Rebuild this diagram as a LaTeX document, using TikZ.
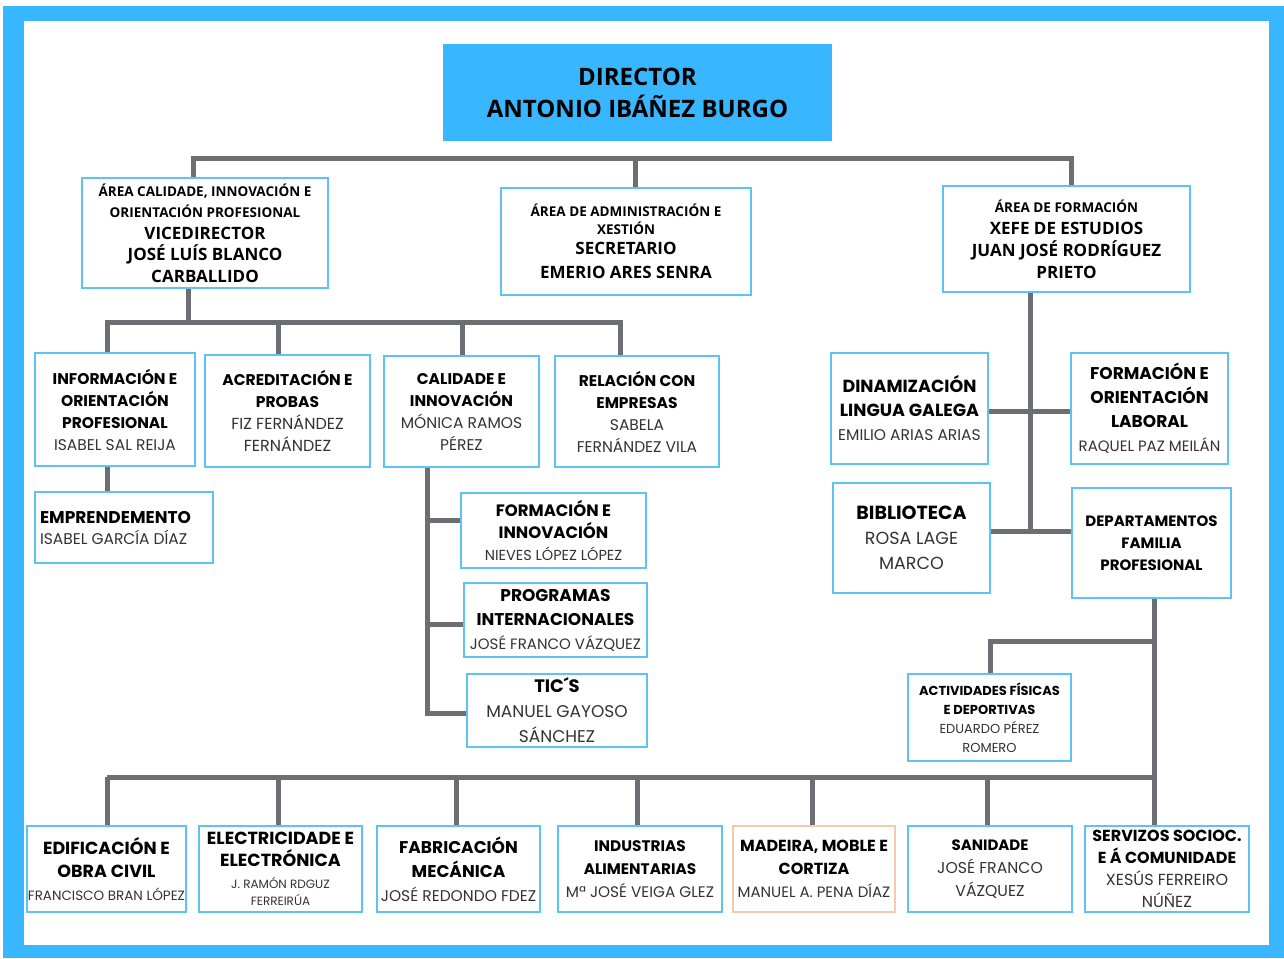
\documentclass[tikz,border=0pt]{standalone}
\usepackage{fontspec}
\setmainfont{Poppins}
\newfontfamily\opfont{Open Sans}
\usepackage{tikz}

\definecolor{frameblue}{HTML}{38B6FF}
\definecolor{boxblue}{HTML}{5DC3F5}
\definecolor{linegray}{HTML}{6B6E72}
\definecolor{namegray}{HTML}{333333}
\definecolor{peach}{HTML}{F7C9AE}

\newcommand{\tit}[2][15.5]{{\bfseries\fontsize{#1}{20}\selectfont #2}}
\newcommand{\nam}[2][15.5]{{\color{namegray}\fontsize{#1}{20}\selectfont #2}}
\newcommand{\sm}[1]{{\fontsize{13.5}{20}\selectfont #1}}

\begin{document}
\begin{tikzpicture}[x=1pt,y=-1pt,
	box/.style={draw=boxblue,line width=2.2pt,fill=white,align=center,inner sep=1pt,font=\fontsize{12}{22}\selectfont},
	area/.style={box,font=\opfont\bfseries\fontsize{17}{22}\selectfont},
	link/.style={linegray,line width=5pt}]
	\useasboundingbox (0,0) rectangle (1284,958);
	\fill[frameblue] (3,6) rectangle (1284,958);
	\fill[white] (24,21) rectangle (1269,945);
	
	% direccion
	\node (dir) at (637.5,92.5)[fill=frameblue,minimum width=389pt,minimum height=97pt,align=center,font=\opfont\bfseries\fontsize{24}{32}\selectfont] {DIRECTOR\\ANTONIO IBÁÑEZ BURGO};
	
	\node (calid) at (205,233)[area,minimum width=246pt,minimum height=110pt,font=\opfont\bfseries\fontsize{17}{21.5}\selectfont] {\sm{ÁREA CALIDADE, INNOVACIÓN E}\\\sm{ORIENTACIÓN PROFESIONAL}\\VICEDIRECTOR\\JOSÉ LUÍS BLANCO\\CARBALLIDO};
	\node (admin) at (626,241.5)[area,minimum width=250pt,minimum height=107pt] {\sm{ÁREA DE ADMINISTRACIÓN E}\\[-4pt]\sm{XESTIÓN}\\[-2pt]SECRETARIO\\[2pt]EMERIO ARES SENRA};
	\node (form) at (1066.5,239)[area,minimum width=247pt,minimum height=106pt] {\sm{ÁREA DE FORMACIÓN}\\XEFE DE ESTUDIOS\\JUAN JOSÉ RODRÍGUEZ\\PRIETO};
	
	% area calidade
	\node (info) at (115,409.5)[box,minimum width=160pt,minimum height=113pt] {\tit{INFORMACIÓN E}\\\tit{ORIENTACIÓN}\\\tit{PROFESIONAL}\\\nam{ISABEL SAL REIJA}};
	\node (acred) at (287.5,411)[box,minimum width=165pt,minimum height=112pt] {\tit{ACREDITACIÓN E}\\\tit{PROBAS}\\\nam[16]{FIZ FERNÁNDEZ}\\\nam[16]{FERNÁNDEZ}};
	\node (calinn) at (461.5,411.5)[box,minimum width=155pt,minimum height=111pt] {\tit{CALIDADE E}\\\tit{INNOVACIÓN}\\\nam{MÓNICA RAMOS}\\\nam{PÉREZ}};
	\node (rel) at (637,411.5)[box,minimum width=164pt,minimum height=111pt] {\tit{RELACIÓN CON}\\\tit{EMPRESAS}\\\nam{SABELA}\\\nam{FERNÁNDEZ VILA}};
	\node (empr) at (124,527.5)[box,minimum width=178pt,minimum height=71pt,text width=168pt,align=left,font=\fontsize{12}{21}\selectfont] {\tit[17]{EMPRENDEMENTO}\\\nam{ISABEL GARCÍA DÍAZ}};
	\node (forinn) at (553.5,530.5)[box,minimum width=185pt,minimum height=75pt] {\tit[16.5]{FORMACIÓN E}\\\tit[16.5]{INNOVACIÓN}\\\nam[14.5]{NIEVES LÓPEZ LÓPEZ}};
	\node (prog) at (555.5,620)[box,minimum width=183pt,minimum height=74pt,font=\fontsize{12}{24}\selectfont] {\tit[17]{PROGRAMAS}\\\tit[17]{INTERNACIONALES}\\\nam[15]{JOSÉ FRANCO VÁZQUEZ}};
	\node (tics) at (557,710.5)[box,minimum width=180pt,minimum height=73pt,font=\fontsize{12}{25}\selectfont] {\tit[18]{TIC´S}\\\nam[17]{MANUEL GAYOSO}\\\nam[17]{SÁNCHEZ}};
	
	% area formacion
	\node (dinam) at (909.5,408.5)[box,minimum width=157pt,minimum height=111pt,font=\fontsize{12}{24}\selectfont] {\tit[17.5]{DINAMIZACIÓN}\\\tit[17.5]{LINGUA GALEGA}\\\nam{EMILIO ARIAS ARIAS}};
	\node (fol) at (1149.5,408.5)[box,minimum width=157pt,minimum height=111pt,font=\fontsize{12}{24}\selectfont] {\tit[17]{FORMACIÓN E}\\\tit[17]{ORIENTACIÓN}\\\tit[17]{LABORAL}\\\nam[15]{RAQUEL PAZ MEILÁN}};
	\node (bibl) at (911.5,538)[box,minimum width=157pt,minimum height=110pt,font=\fontsize{12}{25}\selectfont] {\tit[19]{BIBLIOTECA}\\\nam[17.5]{ROSA LAGE}\\\nam[17.5]{MARCO}};
	\node (dept) at (1151.5,543)[box,minimum width=159pt,minimum height=110pt] {\tit[15]{DEPARTAMENTOS}\\\tit[15]{FAMILIA}\\\tit[15]{PROFESIONAL}};
	\node (activ) at (989.5,717.5)[box,minimum width=163pt,minimum height=87pt,font=\fontsize{10}{19}\selectfont] {\tit[13]{ACTIVIDADES FÍSICAS}\\\tit[13]{E DEPORTIVAS}\\\nam[13]{EDUARDO PÉREZ}\\\nam[13]{ROMERO}};
	
	% familias profesionais
	\node (edif) at (106.5,869)[box,minimum width=159pt,minimum height=86pt,font=\fontsize{12}{23}\selectfont] {\tit[17.5]{EDIFICACIÓN E}\\\tit[17.5]{OBRA CIVIL}\\\nam[13.5]{FRANCISCO BRAN LÓPEZ}};
	\node (elec) at (280.5,869)[box,minimum width=163pt,minimum height=86pt,font=\fontsize{10}{22}\selectfont] {\tit[17.5]{ELECTRICIDADE E}\\\tit[17.5]{ELECTRÓNICA}\\\nam[12]{J. RAMÓN RDGUZ}\\[-5pt]\nam[12]{FERREIRÚA}};
	\node (fabr) at (458.5,869)[box,minimum width=163pt,minimum height=86pt,font=\fontsize{12}{24}\selectfont] {\tit[17]{FABRICACIÓN}\\\tit[17]{MECÁNICA}\\\nam[15.5]{JOSÉ REDONDO FDEZ}};
	\node (indu) at (640,869)[box,minimum width=164pt,minimum height=86pt,font=\fontsize{12}{23}\selectfont] {\tit[15.3]{INDUSTRIAS}\\\tit[15.3]{ALIMENTARIAS}\\\nam[15.3]{Mª JOSÉ VEIGA GLEZ}};
	\node (made) at (814,869)[box,draw=peach,minimum width=162pt,minimum height=86pt,font=\fontsize{12}{23}\selectfont] {\tit[16]{MADEIRA, MOBLE E}\\\tit[16]{CORTIZA}\\\nam[15]{MANUEL A. PENA DÍAZ}};
	\node (sani) at (990,869)[box,minimum width=164pt,minimum height=86pt,font=\fontsize{12}{23}\selectfont] {\tit[15]{SANIDADE}\\\nam[15.7]{JOSÉ FRANCO}\\\nam[15.7]{VÁZQUEZ}};
	\node (serv) at (1167,869)[box,minimum width=164pt,minimum height=86pt,font=\fontsize{12}{22}\selectfont] {\tit[16]{SERVIZOS SOCIOC.}\\\tit[16]{E Á COMUNIDADE}\\\nam[16]{XESÚS FERREIRO}\\\nam[16]{NÚÑEZ}};
	
	% liñas
	\coordinate (t1) at (193,158);
	\coordinate (t2) at (635,158);
	\coordinate (t3) at (1071,158);
	\draw[link] (calid.north -| t1) -- (t1) -- (t3) -- (form.north -| t3);
	\draw[link] (t2) -- (admin.north -| t2);
	
	\coordinate (s0) at (188,322);
	\coordinate (s1) at (107,322);
	\coordinate (s2) at (278,322);
	\coordinate (s3) at (462,322);
	\coordinate (s4) at (620,322);
	\draw[link] (calid.south -| s0) -- (s0);
	\draw[link] (info.north -| s1) -- (s1) -- (s4) -- (rel.north -| s4);
	\draw[link] (s2) -- (acred.north -| s2);
	\draw[link] (s3) -- (calinn.north -| s3);
	\draw[link] (info.south -| s1) -- (empr.north -| s1);
	
	\coordinate (c0) at (427,467);
	\coordinate (c1) at (427,520);
	\coordinate (c2) at (427,624);
	\coordinate (c3) at (427,713);
	\draw[link] (calinn.south -| c0) -- (c3) -- (tics.west |- c3);
	\draw[link] (c1) -- (forinn.west |- c1);
	\draw[link] (c2) -- (prog.west |- c2);
	
	\coordinate (r0) at (1030,292);
	\coordinate (r1) at (1030,411);
	\coordinate (r2) at (1030,531);
	\draw[link] (form.south -| r0) -- (r2);
	\draw[link] (dinam.east |- r1) -- (fol.west |- r1);
	\draw[link] (bibl.east |- r2) -- (dept.west |- r2);
	
	\coordinate (d0) at (1154,598);
	\coordinate (d1) at (1154,641);
	\coordinate (d2) at (990,641);
	\draw[link] (dept.south -| d0) -- (serv.north -| d0);
	\draw[link] (d1) -- (d2) -- (activ.north -| d2);
	
	\coordinate (b1) at (107,777);
	\coordinate (b2) at (278,777);
	\coordinate (b3) at (456,777);
	\coordinate (b4) at (637,777);
	\coordinate (b5) at (812,777);
	\coordinate (b6) at (987,777);
	\coordinate (b7) at (1154,777);
	\draw[link] (b1) -- (b7);
	\foreach \b/\n in {b1/edif,b2/elec,b3/fabr,b4/indu,b5/made,b6/sani}
		\draw[link] (\b) -- (\n.north -| \b);
\end{tikzpicture}
\end{document}
